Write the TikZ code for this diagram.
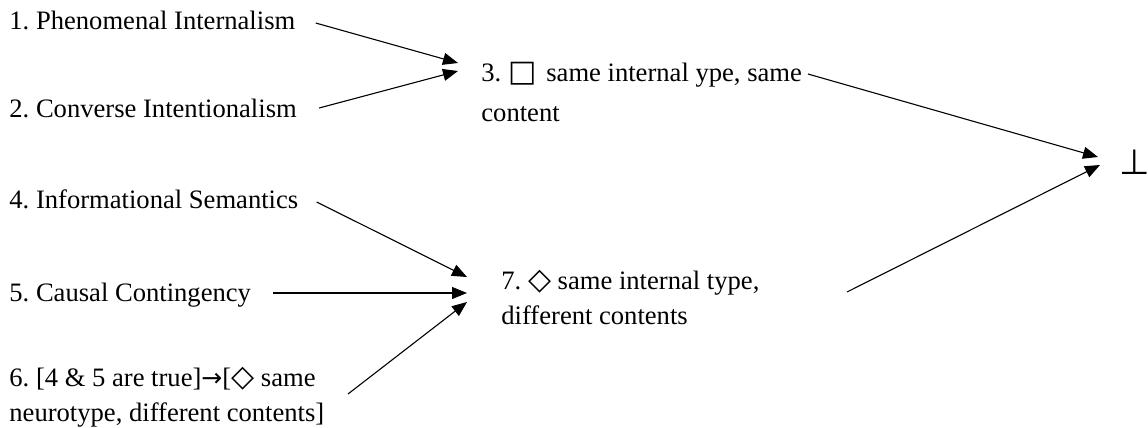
\documentclass[tikz,border=0pt]{standalone}
\usepackage{fontspec}
\setmainfont{Liberation Serif}
\newfontfamily\symfont{DejaVu Sans}
\usetikzlibrary{arrows.meta,calc}
\frenchspacing
\newcommand{\boxop}{{\symfont\fontsize{15pt}{17.5pt}\selectfont □}}
\newcommand{\diaop}{{\symfont\fontsize{15pt}{17.5pt}\selectfont ◇}}
\newcommand{\impl}{{\symfont\fontsize{12.5pt}{17.5pt}\selectfont →}}
\begin{document}
\begin{tikzpicture}[x=0.5pt,y=-0.5pt,
  claim/.style={anchor=base west,inner sep=0pt,align=left,
    font=\fontsize{13.3pt}{17.5pt}\selectfont},
  link/.style={-{Triangle[length=7.5pt,width=6pt]},line width=0.55pt}]
\useasboundingbox (0,0) rectangle (1148,428);

% premises and intermediate conclusions (multi-line nodes sit on their last line)
\node[claim] (p1) at (9,30) {1. Phenomenal Internalism};
\node[claim] (p2) at (9,117) {2. Converse Intentionalism};
\node[claim] (c3) at (481,121) {3. \boxop\hspace{5pt}same internal ype, same\\[2.5pt]content};
\node[claim] (p4) at (9,208) {4. Informational Semantics};
\node[claim] (p5) at (9,301) {5. Causal Contingency};
\node[claim] (p6) at (9,421) {6. [4 \& 5 are true]\impl[\diaop\ same\\neurotype, different contents]};
\node[claim] (c7) at (501,324) {7. \diaop\ same internal type,\\different contents};
\node[anchor=base,inner sep=0pt,font=\symfont\fontsize{17.5pt}{20pt}\selectfont] (bot) at (1135,174) {⊥};

% arrow end points
\coordinate (in3a) at (458,63);
\coordinate (in3b) at (458,71);
\coordinate (in7a) at (467,277);
\coordinate (in7b) at (467,293);
\coordinate (in7c) at (467,302);
\coordinate (out3) at (808,74);
\coordinate (out6) at (348,394);
\coordinate (out7) at (847,292);
\coordinate (inba) at (1098,157);
\coordinate (inbb) at (1100,165);

% inferences
\draw[link] ($(p1.base east)+(20,-7)$) -- (in3a);
\draw[link] ($(p2.base east)+(22,-9)$) -- (in3b);
\draw[link] ($(p4.base east)+(18,-6)$) -- (in7a);
\draw[link] ($(p5.base east)+(22,-8)$) -- (in7b);
\draw[link] (out6) -- (in7c);
\draw[link] (out3) -- (inba);
\draw[link] (out7) -- (inbb);
\end{tikzpicture}
\end{document}
